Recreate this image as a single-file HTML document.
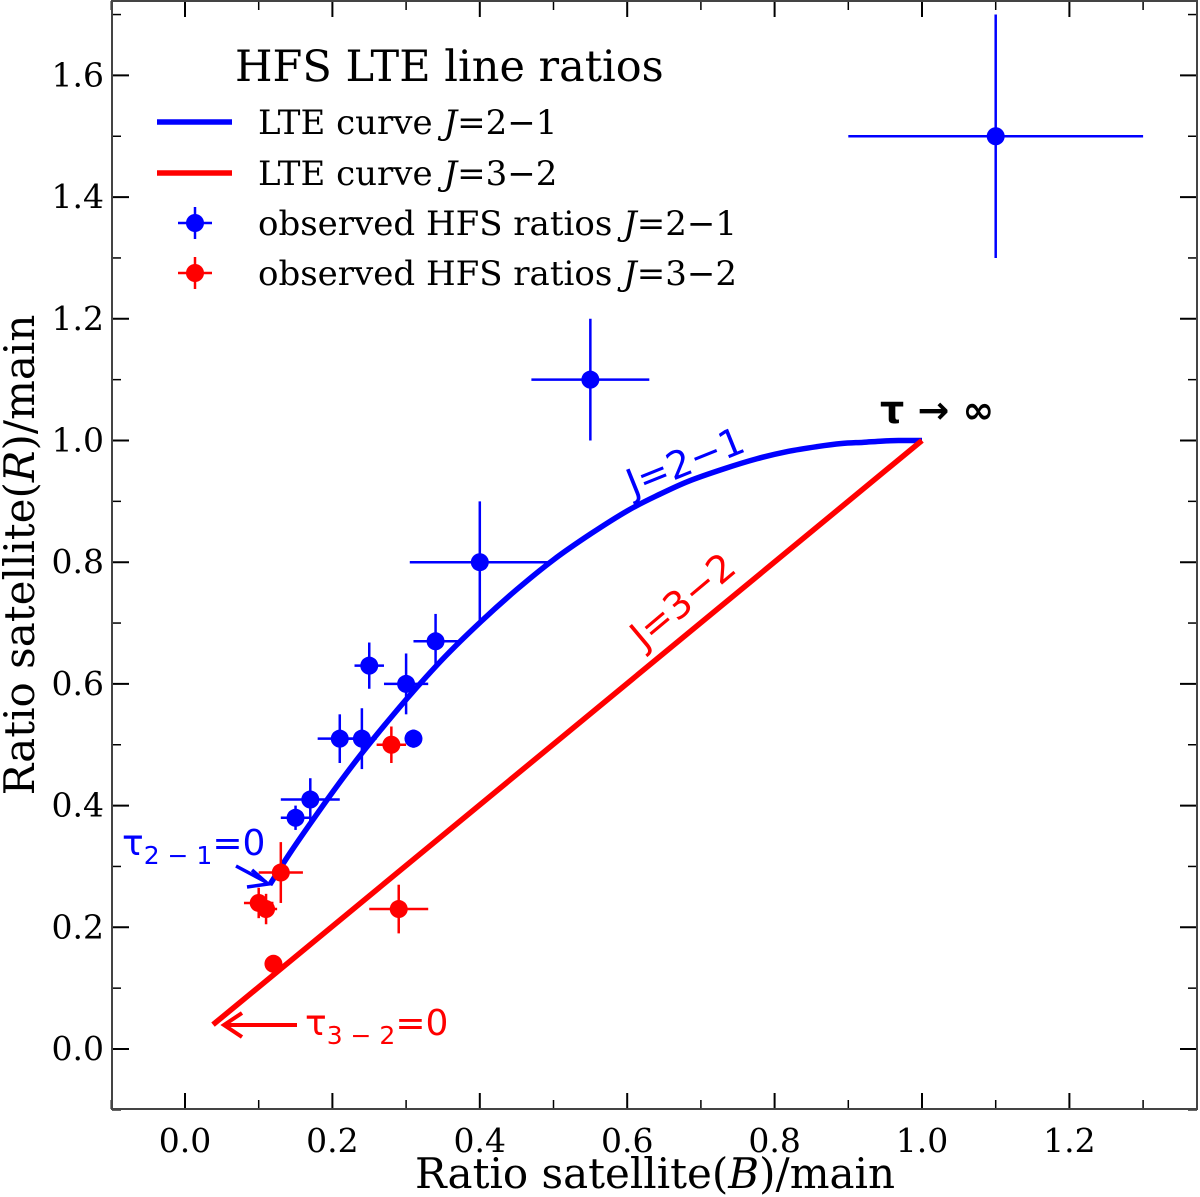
<!DOCTYPE html>
<html><head><meta charset="utf-8"><style>
html,body{margin:0;padding:0;background:#fff}
svg{display:block}
.tk{font-family:"DejaVu Serif","Liberation Serif",serif;font-size:33px;fill:#000}
</style></head><body>
<svg id="chart" width="1200" height="1197" xmlns="http://www.w3.org/2000/svg"></svg>
<script>
// ---- data ----
const xTicks = [0.0, 0.2, 0.4, 0.6, 0.8, 1.0, 1.2];
const xTickLabels = ["0.0","0.2","0.4","0.6","0.8","1.0","1.2"];
const yTicks = [0.0, 0.2, 0.4, 0.6, 0.8, 1.0, 1.2, 1.4, 1.6];
const yTickLabels = ["0.0","0.2","0.4","0.6","0.8","1.0","1.2","1.4","1.6"];
const xMinor = [-0.1,0.1,0.3,0.5,0.7,0.9,1.1,1.3];
const yMinor = [-0.1,0.1,0.3,0.5,0.7,0.9,1.1,1.3,1.5,1.7];
// blue observed J=2-1
const blueX = [1.10, 0.55, 0.40, 0.34, 0.30, 0.25, 0.24, 0.21, 0.31, 0.17, 0.15];
const blueY = [1.50, 1.10, 0.80, 0.67, 0.60, 0.63, 0.51, 0.51, 0.51, 0.41, 0.38];
const blueXerr = [0.20, 0.08, 0.095, 0.03, 0.03, 0.02, 0.02, 0.03, 0.01, 0.04, 0.02];
const blueYerr = [0.20, 0.10, 0.10, 0.045, 0.05, 0.038, 0.05, 0.04, 0.015, 0.035, 0.02];
// red observed J=3-2
const redX = [0.13, 0.10, 0.11, 0.28, 0.29, 0.12];
const redY = [0.29, 0.24, 0.23, 0.50, 0.23, 0.14];
const redXerr = [0.03, 0.02, 0.015, 0.02, 0.04, 0];
const redYerr = [0.05, 0.025, 0.025, 0.03, 0.04, 0];
// LTE curves
const curve21X = [0.115,0.143,0.172,0.205,0.238,0.272,0.307,0.353,0.402,0.450,0.500,0.551,0.601,0.643,0.683,0.730,0.776,0.818,0.858,0.891,0.920,0.946,0.968,0.986,1.0];
const curve21Y = [0.270,0.323,0.374,0.430,0.483,0.534,0.584,0.645,0.703,0.755,0.804,0.847,0.885,0.911,0.933,0.953,0.970,0.982,0.990,0.995,0.997,0.999,1.000,1.000,1.0];
const curve32X = [0.038, 1.0];
const curve32Y = [0.040, 1.0];

// ---- axes ----
const X0=185, XS=737, Y0=1049, YS=608.5;
const L=112, R=1197, T=1, B=1109;
const sx = v => X0 + v*XS;
const sy = v => Y0 - v*YS;
const svg = document.getElementById('chart');
const NS='http://www.w3.org/2000/svg';
function mk(tag, attrs, parent){
  const e=document.createElementNS(NS,tag);
  for(const k in attrs) e.setAttribute(k, attrs[k]);
  (parent||svg).appendChild(e);
  return e;
}

const tg=mk('g',{});


xTicks.forEach((v,i)=>{
  const x=sx(v);
  mk('line',{x1:x,x2:x,y1:B,y2:B-16,stroke:'#000','stroke-width':2},tg);
  mk('line',{x1:x,x2:x,y1:T,y2:T+16,stroke:'#000','stroke-width':2},tg);
  const t=mk('text',{x:x,y:1152,'text-anchor':'middle',class:'tk'},tg);
  t.textContent=xTickLabels[i];
  
  
});
xMinor.forEach(v=>{
  const x=sx(v);
  mk('line',{x1:x,x2:x,y1:B,y2:B-9,stroke:'#000','stroke-width':1.5},tg);
  mk('line',{x1:x,x2:x,y1:T,y2:T+9,stroke:'#000','stroke-width':1.5},tg);
});
yTicks.forEach((v,i)=>{
  const y=sy(v);
  mk('line',{x1:L,x2:L+17,y1:y,y2:y,stroke:'#000','stroke-width':2},tg);
  mk('line',{x1:R,x2:R-17,y1:y,y2:y,stroke:'#000','stroke-width':2},tg);
  const t=mk('text',{x:104,y:y+11,'text-anchor':'end',class:'tk'},tg);
  t.textContent=yTickLabels[i];
  
  
});
yMinor.forEach(v=>{
  const y=sy(v);
  mk('line',{x1:L,x2:L+9,y1:y,y2:y,stroke:'#000','stroke-width':1.5},tg);
  mk('line',{x1:R,x2:R-9,y1:y,y2:y,stroke:'#000','stroke-width':1.5},tg);
});
const frame=mk('rect',{x:L,y:T,width:R-L,height:B-T,fill:'none',stroke:'#444','stroke-width':2});



// smooth curves (Catmull-Rom -> Bezier)
function smoothPath(xs,ys){
  const P=xs.map((x,i)=>[sx(x),sy(ys[i])]);
  let d='M'+P[0][0]+','+P[0][1];
  for(let i=0;i<P.length-1;i++){
    const p0=P[Math.max(0,i-1)],p1=P[i],p2=P[i+1],p3=P[Math.min(P.length-1,i+2)];
    const c1=[p1[0]+(p2[0]-p0[0])/6,p1[1]+(p2[1]-p0[1])/6];
    const c2=[p2[0]-(p3[0]-p1[0])/6,p2[1]-(p3[1]-p1[1])/6];
    d+=' C'+c1[0]+','+c1[1]+' '+c2[0]+','+c2[1]+' '+p2[0]+','+p2[1];
  }
  return d;
}
function curve(xs,ys,color,name){
  const p=mk('path',{d:smoothPath(xs,ys),fill:'none',stroke:color,'stroke-width':5.5,'stroke-linejoin':'round'});
  
  
}
curve(curve21X,curve21Y,'#0000ff','lte-curve-j21');
curve(curve32X,curve32Y,'#ff0000','lte-curve-j32');

function pts(xs,ys,xe,ye,color,name){
  const g=mk('g',{});
  
  
  xs.forEach((x,i)=>{
    const cx=sx(x), cy=sy(ys[i]);
    if(xe[i]>0) mk('line',{x1:sx(x-xe[i]),x2:sx(x+xe[i]),y1:cy,y2:cy,stroke:color,'stroke-width':2.5},g);
    if(ye[i]>0) mk('line',{x1:cx,x2:cx,y1:sy(ys[i]-ye[i]),y2:sy(ys[i]+ye[i]),stroke:color,'stroke-width':2.5},g);
    const c=mk('circle',{cx:cx,cy:cy,r:9,fill:color},g);
    
    
  });
}
pts(blueX,blueY,blueXerr,blueYerr,'#0000ff','observed-j21-points');
pts(redX,redY,redXerr,redYerr,'#ff0000','observed-j32-points');
</script>
<svg style="position:absolute;left:0;top:0" width="1200" height="1197" xmlns="http://www.w3.org/2000/svg">
  <text x="655" y="1188" text-anchor="middle" font-family="DejaVu Serif, Liberation Serif, serif" font-size="42">Ratio satellite(<tspan font-style="italic">B</tspan>)/main</text>
  <text transform="translate(34,555) rotate(-90)" text-anchor="middle" font-family="DejaVu Serif, Liberation Serif, serif" font-size="42">Ratio satellite(<tspan font-style="italic">R</tspan>)/main</text>
  <g font-family="DejaVu Serif, Liberation Serif, serif" font-size="34">
    <text x="235" y="81" font-size="43">HFS LTE line ratios</text>
    <line x1="157" x2="232" y1="122" y2="122" stroke="#0000ff" stroke-width="5.5"/>
    <text x="258" y="134">LTE curve <tspan font-style="italic">J</tspan>=2−1</text>
    <line x1="157" x2="232" y1="173" y2="173" stroke="#ff0000" stroke-width="5.5"/>
    <text x="258" y="185">LTE curve <tspan font-style="italic">J</tspan>=3−2</text>
    <line x1="178" x2="212" y1="223" y2="223" stroke="#0000ff" stroke-width="2.5"/>
    <line x1="195" x2="195" y1="207" y2="239" stroke="#0000ff" stroke-width="2.5"/>
    <circle cx="195" cy="223" r="9" fill="#0000ff"/>
    <text x="258" y="235">observed HFS ratios <tspan font-style="italic">J</tspan>=2−1</text>
    <line x1="178" x2="212" y1="273" y2="273" stroke="#ff0000" stroke-width="2.5"/>
    <line x1="195" x2="195" y1="257" y2="289" stroke="#ff0000" stroke-width="2.5"/>
    <circle cx="195" cy="273" r="9" fill="#ff0000"/>
    <text x="258" y="285">observed HFS ratios <tspan font-style="italic">J</tspan>=3−2</text>
  </g>
  <text x="880" y="423" font-family="DejaVu Sans, Liberation Sans, sans-serif" font-size="38" font-weight="bold">τ → ∞</text>
  <text transform="translate(633,497) rotate(-22)" font-family="DejaVu Sans, Liberation Sans, sans-serif" font-size="38" fill="#0000ff">J=2−1</text>
  <text transform="translate(644,650) rotate(-40)" font-family="DejaVu Sans, Liberation Sans, sans-serif" font-size="38" fill="#ff0000">J=3−2</text>
  <text x="122" y="855" font-family="DejaVu Sans, Liberation Sans, sans-serif" font-size="36" fill="#0000ff">τ<tspan font-size="25" dy="9">2 − 1</tspan><tspan dy="-9">=0</tspan></text>
  <g stroke="#0000ff" stroke-width="3.5" fill="none">
    <line x1="236" y1="866" x2="266" y2="882"/>
    <path d="M252,870 L268,884 L247,887"/>
  </g>
  <text x="305" y="1035" font-family="DejaVu Sans, Liberation Sans, sans-serif" font-size="36" fill="#ff0000">τ<tspan font-size="25" dy="9">3 − 2</tspan><tspan dy="-9">=0</tspan></text>
  <g stroke="#ff0000" stroke-width="4" fill="none">
    <line x1="297" y1="1025" x2="225" y2="1025"/>
    <path d="M242,1013 L224,1025 L242,1037"/>
  </g>
</svg>
</body></html>
